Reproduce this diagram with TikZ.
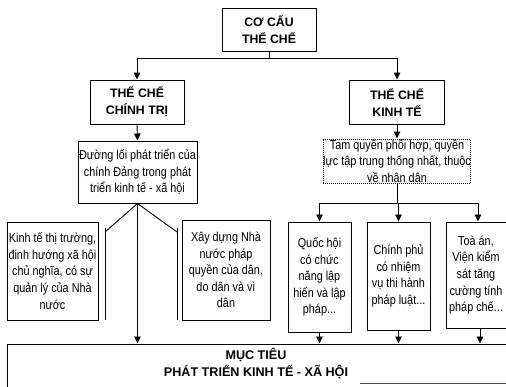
\documentclass[tikz,border=0pt]{standalone}
\usepackage{fontspec}
\setmainfont{Liberation Sans}
\newfontfamily\narrowfont{Liberation Sans}[FakeStretch=0.84]
\usetikzlibrary{arrows.meta}
\begin{document}
\begin{tikzpicture}[x=1pt,y=-1pt,
  box/.style={draw,line width=1pt,rectangle,inner sep=0pt,align=center},
  headbox/.style={box,font=\fontsize{12.3}{17}\selectfont\bfseries},
  txtbox/.style={box,font=\narrowfont\fontsize{12.9}{16.6}\selectfont},
  arr/.style={line width=0.9pt,-{Triangle[width=6.5pt,length=7pt]}},
  ln/.style={line width=0.9pt}]
\useasboundingbox (0,0) rectangle (506,386);
\clip (0,0) rectangle (506,386);
\fill[white] (0,0) rectangle (506,386);
% top level
\node[headbox,minimum width=94pt,minimum height=43pt] (top) at (269,29.5) {CƠ CẤU\\THỂ CHẾ};
\node[headbox,minimum width=94pt,minimum height=44pt] (pol) at (137,102) {THỂ CHẾ\\CHÍNH TRỊ};
\node[headbox,minimum width=95pt,minimum height=44pt] (eco) at (397,102) {THỂ CHẾ\\KINH TẾ};
% second level
\node[txtbox,minimum width=119pt,minimum height=62pt] (line) at (137.5,172) {Đường lối phát triển của\\chính Đảng trong phát\\triển kinh tế - xã hội};
\node[txtbox,densely dotted,minimum width=143pt,minimum height=44pt] (tam) at (397,161) {Tam quyền phối hợp, quyền\\lực tập trung thống nhất, thuộc\\về nhân dân};
% third level
\node[txtbox,minimum width=91pt,minimum height=98pt] (kt) at (52.5,271) {Kinh tế thị trường,\\đinh hướng xã hội\\chủ nghĩa, có sự\\quản lý của Nhà\\nước};
\node[txtbox,minimum width=88pt,minimum height=100pt] (xd) at (226,270) {Xây dựng Nhà\\nước pháp\\quyền của dân,\\do dân và vì\\dân};
\node[txtbox,minimum width=63pt,minimum height=110pt] (qh) at (319.5,277) {Quốc hội\\có chức\\năng lập\\hiến và lập\\pháp...};
\node[txtbox,minimum width=63pt,minimum height=108pt] (cp) at (398.5,276) {Chính phủ\\có nhiệm\\vụ thi hành\\pháp luật...};
\node[txtbox,minimum width=60pt,minimum height=106pt] (ta) at (476,275) {Toà án,\\Viện kiểm\\sát tăng\\cường tính\\pháp chế...};
% goal box
\node[box,minimum width=513pt,minimum height=80pt] (mt) at (263.5,384) {};
\node[font=\fontsize{12.6}{17}\selectfont\bfseries,align=center,inner sep=0pt] (mttext) at (256,363.5) {MỤC TIÊU\\PHÁT TRIỂN KINH TẾ - XÃ HỘI};
% connectors
\draw[ln] (top.south) -- ++(0,7) coordinate (tj);
\draw[arr] (tj) -| (pol.north);
\draw[arr] (tj) -| (eco.north);
\draw[arr] (pol.south) -- (line.north);
\draw[arr] (eco.south) -- (tam.north);
\draw[ln] (tam.south) -- ++(0,20) coordinate (tamj);
\draw[arr] (tamj) -| (qh.north);
\draw[arr] (tamj) -| (cp.north);
\draw[arr] (tamj) -| ([xshift=2pt]ta.north);
% from the party line
\coordinate (lb1) at (105,232);
\coordinate (lb1e) at (105,320);
\coordinate (lb2) at (177,232);
\coordinate (lb2e) at (177,320);
\draw[ln] (line.south) -- (lb1);
\draw[ln] (line.south) -- (lb2);
\draw[ln] (lb1) ++(0,-4) -- (lb1e);
\draw[ln] (lb2) ++(0,-4) -- (lb2e);
\draw[arr] (line.south) -- (line.south |- mt.north);
% into the goal
\draw[arr] (qh.south) -- (qh.south |- mt.north);
\draw[arr] (cp.south) -- (cp.south |- mt.north);
\draw[arr] ([xshift=4pt]ta.south) -- ([xshift=4pt]ta.south |- mt.north);
% scan line at bottom
\coordinate (sl1) at (360,383.5);
\coordinate (sl2) at (506,383.5);
\draw[line width=0.8pt,black!70] (sl1) -- (sl2);
\end{tikzpicture}
\end{document}
